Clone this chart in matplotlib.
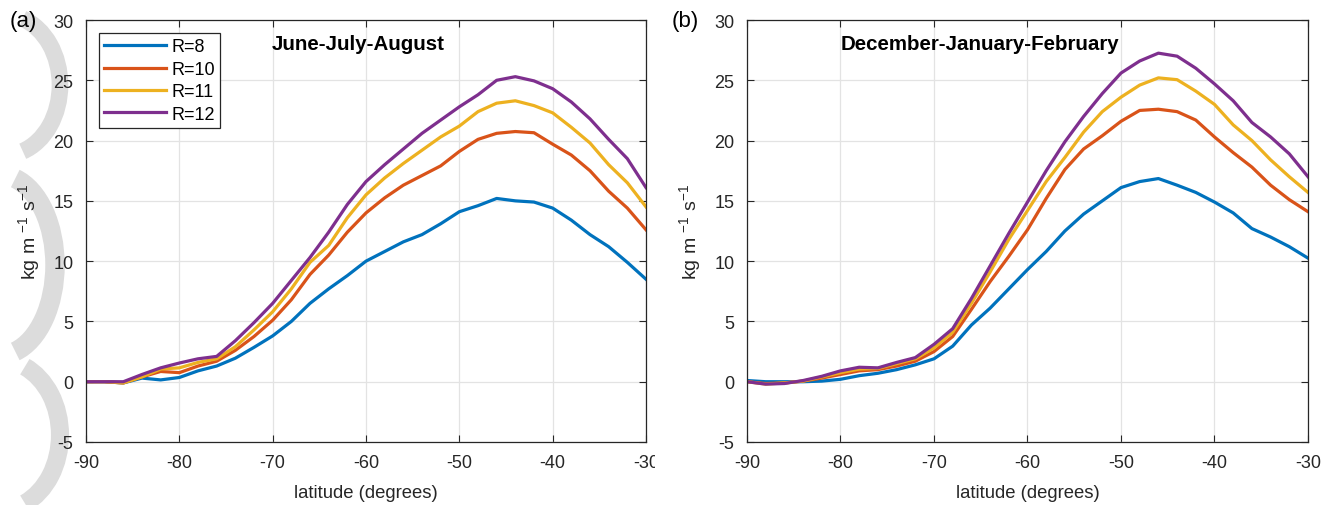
import numpy as np
import matplotlib
matplotlib.use('Agg')
import matplotlib.pyplot as plt
from matplotlib.patches import Arc
from matplotlib.transforms import Bbox

plt.rcParams['font.family'] = ['Liberation Sans', 'DejaVu Sans']
plt.rcParams['axes.unicode_minus'] = False
plt.rcParams['mathtext.fontset'] = 'custom'
plt.rcParams['mathtext.rm'] = 'Liberation Sans'
plt.rcParams['mathtext.it'] = 'Liberation Sans'

lat = np.arange(-90, -29, 2)
labels = ['R=8', 'R=10', 'R=11', 'R=12']
colors = ['#0072BD', '#D95319', '#EDB120', '#7E2F8E']

# June-July-August
jja_r8 = [0.0, 0.0, -0.1, 0.3, 0.15, 0.35, 0.9, 1.3, 1.95, 2.85, 3.8, 5.0, 6.5, 7.7, 8.8, 10.0,
          10.8, 11.6, 12.2, 13.1, 14.1, 14.6, 15.2, 15.0, 14.9, 14.4, 13.4, 12.2, 11.2, 9.9, 8.5]
jja_r10 = [0.0, 0.0, -0.1, 0.4, 0.85, 0.75, 1.3, 1.7, 2.6, 3.75, 5.1, 6.8, 8.9, 10.5, 12.4, 14.0,
           15.25, 16.3, 17.1, 17.9, 19.1, 20.1, 20.6, 20.75, 20.65, 19.7, 18.8, 17.5, 15.8, 14.4, 12.6]
jja_r11 = [0.0, 0.0, -0.1, 0.4, 1.05, 1.15, 1.6, 1.9, 2.9, 4.3, 5.8, 7.7, 9.9, 11.3, 13.6, 15.5,
           16.9, 18.1, 19.2, 20.3, 21.2, 22.4, 23.1, 23.3, 22.9, 22.3, 21.1, 19.8, 18.0, 16.5, 14.5]
jja_r12 = [0.0, 0.0, 0.0, 0.6, 1.15, 1.55, 1.9, 2.1, 3.4, 4.9, 6.5, 8.4, 10.3, 12.4, 14.7, 16.6,
           18.0, 19.3, 20.6, 21.7, 22.8, 23.8, 25.0, 25.3, 24.95, 24.3, 23.2, 21.8, 20.1, 18.5, 16.1]

# December-January-February
djf_r8 = [0.1, 0.0, 0.0, 0.0, 0.05, 0.2, 0.5, 0.7, 1.0, 1.4, 1.9, 2.95, 4.7, 6.1, 7.7, 9.3,
          10.8, 12.5, 13.9, 15.0, 16.1, 16.6, 16.85, 16.3, 15.7, 14.9, 14.0, 12.7, 12.0, 11.2, 10.25]
djf_r10 = [0.0, -0.15, -0.1, 0.05, 0.3, 0.6, 0.9, 1.0, 1.3, 1.7, 2.5, 3.75, 6.0, 8.3, 10.4, 12.6,
           15.2, 17.6, 19.3, 20.4, 21.6, 22.5, 22.6, 22.4, 21.7, 20.3, 19.0, 17.8, 16.3, 15.1, 14.1]
djf_r11 = [0.0, -0.2, -0.1, 0.05, 0.4, 0.75, 1.05, 1.1, 1.5, 1.9, 2.8, 4.1, 6.5, 9.1, 11.8, 14.2,
           16.6, 18.6, 20.7, 22.4, 23.6, 24.6, 25.2, 25.05, 24.1, 23.0, 21.3, 20.0, 18.4, 17.0, 15.7]
djf_r12 = [0.0, -0.2, -0.15, 0.1, 0.45, 0.9, 1.2, 1.15, 1.6, 2.0, 3.1, 4.4, 6.9, 9.6, 12.3, 14.9,
           17.5, 19.9, 22.0, 23.9, 25.6, 26.6, 27.25, 27.0, 26.0, 24.7, 23.3, 21.5, 20.3, 18.9, 17.0]

fig = plt.figure(figsize=(13.22, 5.06), dpi=100)

# faint watermark shapes at the left edge (pixel coords from bottom-left)
wm = '#dcdcdc'
for (cx, cy), w, h, t1, t2, lw in [((5, 420), 110, 140, -75, 75, 12),
                                   ((0, 240), 110, 180, -80, 80, 14),
                                   ((0, 70), 120, 150, -70, 70, 13)]:
    fig.patches.append(Arc((cx, cy), w, h, theta1=t1, theta2=t2, lw=lw, color=wm,
                           transform=None, zorder=-5))

axa = fig.add_axes([86/1322, 63/506, 560/1322, 422/506])
axb = fig.add_axes([747/1322, 63/506, 561/1322, 422/506])

panels = [
    (axa, [jja_r8, jja_r10, jja_r11, jja_r12], 'June-July-August', 0.486, '(a)', 10),
    (axb, [djf_r8, djf_r10, djf_r11, djf_r12], 'December-January-February', 0.415, '(b)', 672),
]

for ax, series, title, tx, tag, tagx in panels:
    for vals, lab, col in zip(series, labels, colors):
        ax.plot(lat, vals, color=col, lw=2.3, label=lab)
    ax.set_xlim(-90, -30)
    ax.set_ylim(-5, 30)
    ax.set_xticks(np.arange(-90, -29, 10))
    ax.set_yticks(np.arange(-5, 31, 5))
    ax.grid(True, color='#e3e3e3', lw=0.9)
    ax.set_axisbelow(True)
    ax.tick_params(direction='in', length=5, labelsize=13, colors='#262626',
                   top=True, right=True)
    ax.tick_params(axis='x', pad=9)
    ax.tick_params(axis='y', pad=9)
    for s in ax.spines.values():
        s.set_color('#262626')
        s.set_linewidth(0.9)
    ax.set_xlabel('latitude (degrees)', fontsize=13.3, color='#262626', labelpad=9)
    ax.set_ylabel(r'kg m $^{-1}$ s$^{-1}$', fontsize=14, color='#262626', labelpad=8)
    ax.text(tx, 0.945, title, transform=ax.transAxes, ha='center', va='center',
            fontsize=14.8, fontweight='bold')
    fig.text(tagx/1322, 1 - 21/506, tag, fontsize=16, va='center', ha='left')

leg = axa.legend(loc='upper left', bbox_to_anchor=(0.023, 0.969), fontsize=13,
                 frameon=True, fancybox=False, edgecolor='#262626', framealpha=1,
                 handlelength=3.4, handletextpad=0.3, labelspacing=0.3, borderpad=0.3,
                 borderaxespad=0)
leg.get_frame().set_linewidth(0.9)

# the -30 label of the left panel is cut off in the original
clip = Bbox([[0, 0], [655, 506]])
for t in axa.xaxis.get_major_ticks():
    t.label1.set_clip_box(clip)
    t.label1.set_clip_on(True)

fig.savefig('out.png', dpi=100)
